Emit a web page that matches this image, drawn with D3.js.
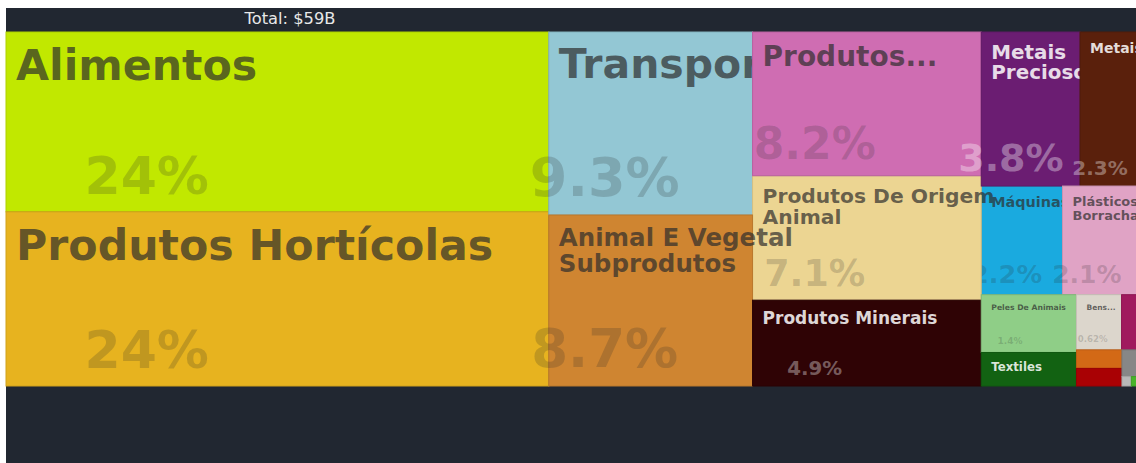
<!DOCTYPE html>
<html>
<head>
<meta charset="utf-8">
<script src="https://cdn.jsdelivr.net/npm/d3@7"></script>
<style>
  html, body { margin: 0; padding: 0; background: #fff; overflow: hidden; }
  svg { display: block; }
</style>
</head>
<body>
<svg id="chart" width="1136" height="463"></svg>
<script>
// export categories, in drawing order (values in US$ billions)
const names = [
  'Alimentos', 'Produtos Hortícolas', 'Transportes', 'Máquinas',
  'Produtos De Origem Animal', 'Animal E Vegetal Subprodutos', 'Produtos...',
  'Metais Preciosos', 'Metais', 'Plásticos E Borrachas', 'Produtos Minerais',
  'Peles De Animais', 'Textiles', 'Bens...', 'Outros A', 'Outros B', 'Outros C',
  'Outros D', 'Outros E', 'Outros F'
];
const values = [
  14.37, 13.92, 5.49, 1.30,
  4.19, 5.13, 4.84,
  2.24, 1.36, 1.24, 2.89,
  0.81, 0.47, 0.366, 0.15, 0.124, 0.118,
  0.071, 0.013, 0.012
];
const colors = [
  '#c1e800', '#e7b31f', '#93c7d4', '#1aaadf',
  '#ecd592', '#cf8531', '#cf6db2',
  '#6b1d72', '#5a200c', '#e0a3c5', '#2f0305',
  '#8fce87', '#126212', '#dcd6cc', '#a01a5e', '#d36916', '#a90104',
  '#878787', '#b8b8b8', '#4ab42a'
];
const darkTiles = ['Metais Preciosos', 'Metais', 'Produtos Minerais', 'Textiles', 'Outros A', 'Outros C'];

// label font sizes (title, percentage) per tile
const labelSize = {
  'Alimentos': [42.7, 52],
  'Produtos Hortícolas': [42.7, 52],
  'Transportes': [41, 54],
  'Animal E Vegetal Subprodutos': [24.5, 53],
  'Produtos...': [28, 44],
  'Produtos De Origem Animal': [20.3, 36.4],
  'Produtos Minerais': [17, 19.8],
  'Metais Preciosos': [19.9, 38],
  'Metais': [14, 20],
  'Máquinas': [14.4, 25.6],
  'Plásticos E Borrachas': [13, 25],
  'Peles De Animais': [7.7, 9],
  'Bens...': [7.5, 8.6],
  'Textiles': [11.75, 0]
};

const X0 = 6, Y0 = 32, W = 1134, H = 354;
const items = names.map((name, i) => ({ name, value: values[i], color: colors[i], order: i }));
const total = d3.sum(values);

const svg = d3.select('#chart');
svg.append('rect').attr('x', 6).attr('y', 8).attr('width', 1200).attr('height', 500).attr('fill', '#212731');

svg.append('text')
  .attr('x', 290).attr('y', 24)
  .attr('text-anchor', 'middle')
  .attr('fill', '#e8e8e8')
  .style('font', '16.3px "DejaVu Sans", sans-serif')
  .text(`Total: $${d3.format('.0f')(total)}B`);

const root = d3.hierarchy({ children: items })
  .sum(d => d.value || 0)
  .sort((a, b) => b.value - a.value);

d3.treemap().size([W, H]).tile(d3.treemapSquarify)(root);

const leaves = root.leaves().sort((a, b) => a.data.order - b.data.order);
const pct = d3.format('.2r');

const ctx = document.createElement('canvas').getContext('2d');
function wrap(text, fs, maxW) {
  ctx.font = `bold ${fs * 0.7}px "DejaVu Sans"`;
  const words = text.split(' ');
  const lines = [];
  let line = words[0];
  for (const w of words.slice(1)) {
    if (ctx.measureText(line + ' ' + w).width <= maxW) line += ' ' + w;
    else { lines.push(line); line = w; }
  }
  lines.push(line);
  return lines;
}

const g = svg.append('g').attr('transform', `translate(${X0},${Y0})`);

const tile = g.selectAll('g.tile')
  .data(leaves)
  .join('g')
  .attr('class', 'tile');

tile.append('rect')
  .attr('x', d => d.x0)
  .attr('y', d => d.y0)
  .attr('width', d => d.x1 - d.x0)
  .attr('height', d => d.y1 - d.y0)
  .attr('fill', d => d.data.color)
  .attr('stroke', d => d3.color(d.data.color).darker(0.3))
  .attr('stroke-width', 1);

tile.each(function(d) {
  const size = labelSize[d.data.name];
  if (!size) return;
  const sel = d3.select(this);
  const dark = darkTiles.includes(d.data.name);
  const w = d.x1 - d.x0;
  const [tfs, pfs] = size;

  const lines = wrap(d.data.name, tfs, w - 20);
  sel.append('text')
    .attr('x', d.x0 + 10)
    .attr('y', d.y0 + 8 + 0.93 * tfs)
    .attr('fill', dark ? '#fff' : '#2c2c2c')
    .attr('fill-opacity', dark ? 0.85 : 0.7)
    .style('font', `bold ${tfs}px "DejaVu Sans", sans-serif`)
    .selectAll('tspan')
    .data(lines)
    .join('tspan')
    .attr('x', d.x0 + 10)
    .attr('dy', (l, i) => i ? tfs * 1.05 : 0)
    .text(l => l);

  if (pfs) {
    sel.append('text')
      .attr('x', d.x0 + w / 4 + 5)
      .attr('y', d.y1 - 6 - 0.236 * pfs)
      .attr('text-anchor', 'middle')
      .attr('fill', dark ? '#fff' : '#282828')
      .attr('fill-opacity', dark ? 0.36 : 0.2)
      .style('font', `bold ${pfs}px "DejaVu Sans", sans-serif`)
      .text(pct(d.value / total * 100) + '%');
  }
});
</script>
</body>
</html>
